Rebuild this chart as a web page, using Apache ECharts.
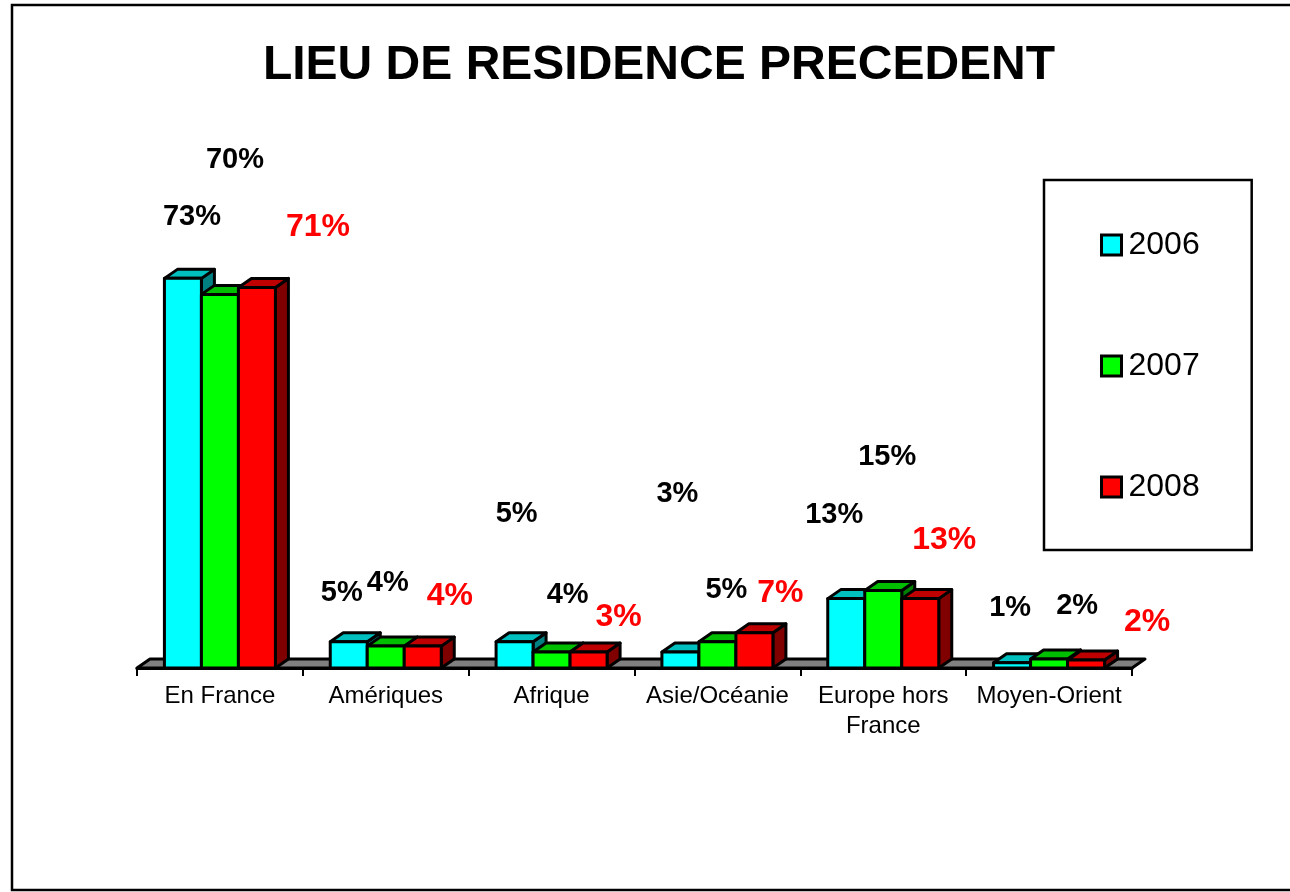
<!DOCTYPE html>
<html>
<head>
<meta charset="utf-8">
<title>Lieu de residence precedent</title>
<style>
html, body { margin: 0; padding: 0; background: #fff; }
#chart { width: 1290px; height: 892px; }
</style>
<script src="https://cdn.jsdelivr.net/npm/echarts@6/dist/echarts.min.js"></script>
</head>
<body>
<div id="chart"></div>
<script>
const categories = ['En France', 'Amériques', 'Afrique', 'Asie/Océanie', 'Europe hors\nFrance', 'Moyen-Orient'];
const years = ['2006', '2007', '2008'];

// bar heights
const values2006 = [73, 4.9, 4.9, 3, 13, 1];
const values2007 = [70, 4.1, 3, 4.9, 14.5, 1.7];
const values2008 = [71.3, 4.1, 3, 6.6, 13, 1.5];

// labels as printed on the chart
const labels2006 = ['73%', '5%', '5%', '3%', '13%', '1%'];
const labels2007 = ['70%', '4%', '4%', '5%', '15%', '2%'];
const labels2008 = ['71%', '4%', '3%', '7%', '13%', '2%'];

// labels float away from their bars, shift is from the top centre of the bar
const shiftX2006 = [9, -7, 2, -3, -12, -2];
const shiftY2006 = [-61, -49, -128, -158, -84, -55];
const shiftX2007 = [15, 2, 16, 9, 4, 28];
const shiftY2007 = [-134, -63, -57, -52, -134, -53];
const shiftX2008 = [61, 27, 30, 26, 24, 61];
const shiftY2008 = [-60, -50, -35, -40, -58, -38];

const barWidth = 37;
const depthX = 13;
const depthY = 9;
const fontName = '"Liberation Sans", Arial, sans-serif';

function box(points, color) {
    return {
        type: 'polygon',
        shape: { points: points },
        style: { fill: color, stroke: '#000', lineWidth: 3, lineJoin: 'round' }
    };
}

function makeSeries(name, values, labels, shiftX, shiftY, slot, front, top, side, labelColor, labelSize) {
    return {
        name: name,
        type: 'custom',
        itemStyle: { color: front },
        encode: { x: 0, y: 1 },
        data: values.map(function (v, i) { return [i, v]; }),
        renderItem: function (params, api) {
            const i = api.value(0);
            const p = api.coord([i, api.value(1)]);
            const base = api.coord([i, 0]);
            const center = p[0] + (slot - 1) * barWidth;
            const x0 = center - barWidth / 2;
            const x1 = x0 + barWidth;
            const y0 = p[1];
            const y1 = base[1];
            return {
                type: 'group',
                children: [
                    box([[x1, y0], [x1 + depthX, y0 - depthY], [x1 + depthX, y1 - depthY], [x1, y1]], side),
                    box([[x0, y0], [x0 + depthX, y0 - depthY], [x1 + depthX, y0 - depthY], [x1, y0]], top),
                    box([[x0, y0], [x1, y0], [x1, y1], [x0, y1]], front),
                    {
                        type: 'text',
                        z2: 100,
                        style: {
                            x: center + shiftX[i],
                            y: y0 + shiftY[i],
                            text: labels[i],
                            fill: labelColor,
                            font: 'bold ' + labelSize + 'px ' + fontName,
                            align: 'center',
                            verticalAlign: 'middle'
                        }
                    }
                ]
            };
        }
    };
}

const floorSeries = {
    name: 'floor',
    type: 'custom',
    data: [[0, 0]],
    encode: { x: 0, y: 1 },
    renderItem: function (params, api) {
        const c = params.coordSys;
        const y = api.coord([0, 0])[1];
        return box([
            [c.x, y],
            [c.x + depthX, y - depthY],
            [c.x + c.width + depthX, y - depthY],
            [c.x + c.width, y]
        ], '#808080');
    }
};

const chart = echarts.init(document.getElementById('chart'));
chart.setOption({
    animation: false,
    backgroundColor: '#fff',
    title: {
        text: 'LIEU DE RESIDENCE PRECEDENT',
        left: 654,
        top: 37,
        textAlign: 'center',
        textStyle: { fontFamily: fontName, fontSize: 48, fontWeight: 'bold', color: '#000' }
    },
    legend: {
        data: years,
        orient: 'vertical',
        left: 1044,
        top: 180,
        padding: [49, 52, 47, 56],
        itemGap: 89,
        itemWidth: 20,
        itemHeight: 20,
        icon: 'rect',
        borderColor: '#000',
        borderWidth: 2.5,
        itemStyle: { borderColor: '#000', borderWidth: 3 },
        textStyle: { fontFamily: fontName, fontSize: 32, color: '#000', padding: [0, 0, 0, 2] }
    },
    grid: { left: 137, top: 241, width: 995, height: 427 },
    xAxis: {
        type: 'category',
        data: categories,
        axisLine: { show: true, lineStyle: { color: '#000', width: 3 } },
        axisTick: { show: true, length: 8, lineStyle: { color: '#000', width: 2 } },
        axisLabel: { interval: 0, margin: 13, fontFamily: fontName, fontSize: 24, lineHeight: 30, color: '#000' }
    },
    yAxis: { type: 'value', min: 0, max: 80, show: false },
    graphic: [{
        // the slide frame runs off the right edge
        type: 'rect',
        shape: { x: 12, y: 5, width: 1300, height: 885 },
        style: { fill: 'none', stroke: '#000', lineWidth: 2.5 },
        silent: true
    }],
    series: [
        floorSeries,
        makeSeries(years[0], values2006, labels2006, shiftX2006, shiftY2006, 0, '#00ffff', '#00bfbf', '#008080', '#000', 29),
        makeSeries(years[1], values2007, labels2007, shiftX2007, shiftY2007, 1, '#00ff00', '#00bf00', '#008000', '#000', 29),
        makeSeries(years[2], values2008, labels2008, shiftX2008, shiftY2008, 2, '#ff0000', '#bf0000', '#800000', '#ff0000', 32)
    ]
});
</script>
</body>
</html>
